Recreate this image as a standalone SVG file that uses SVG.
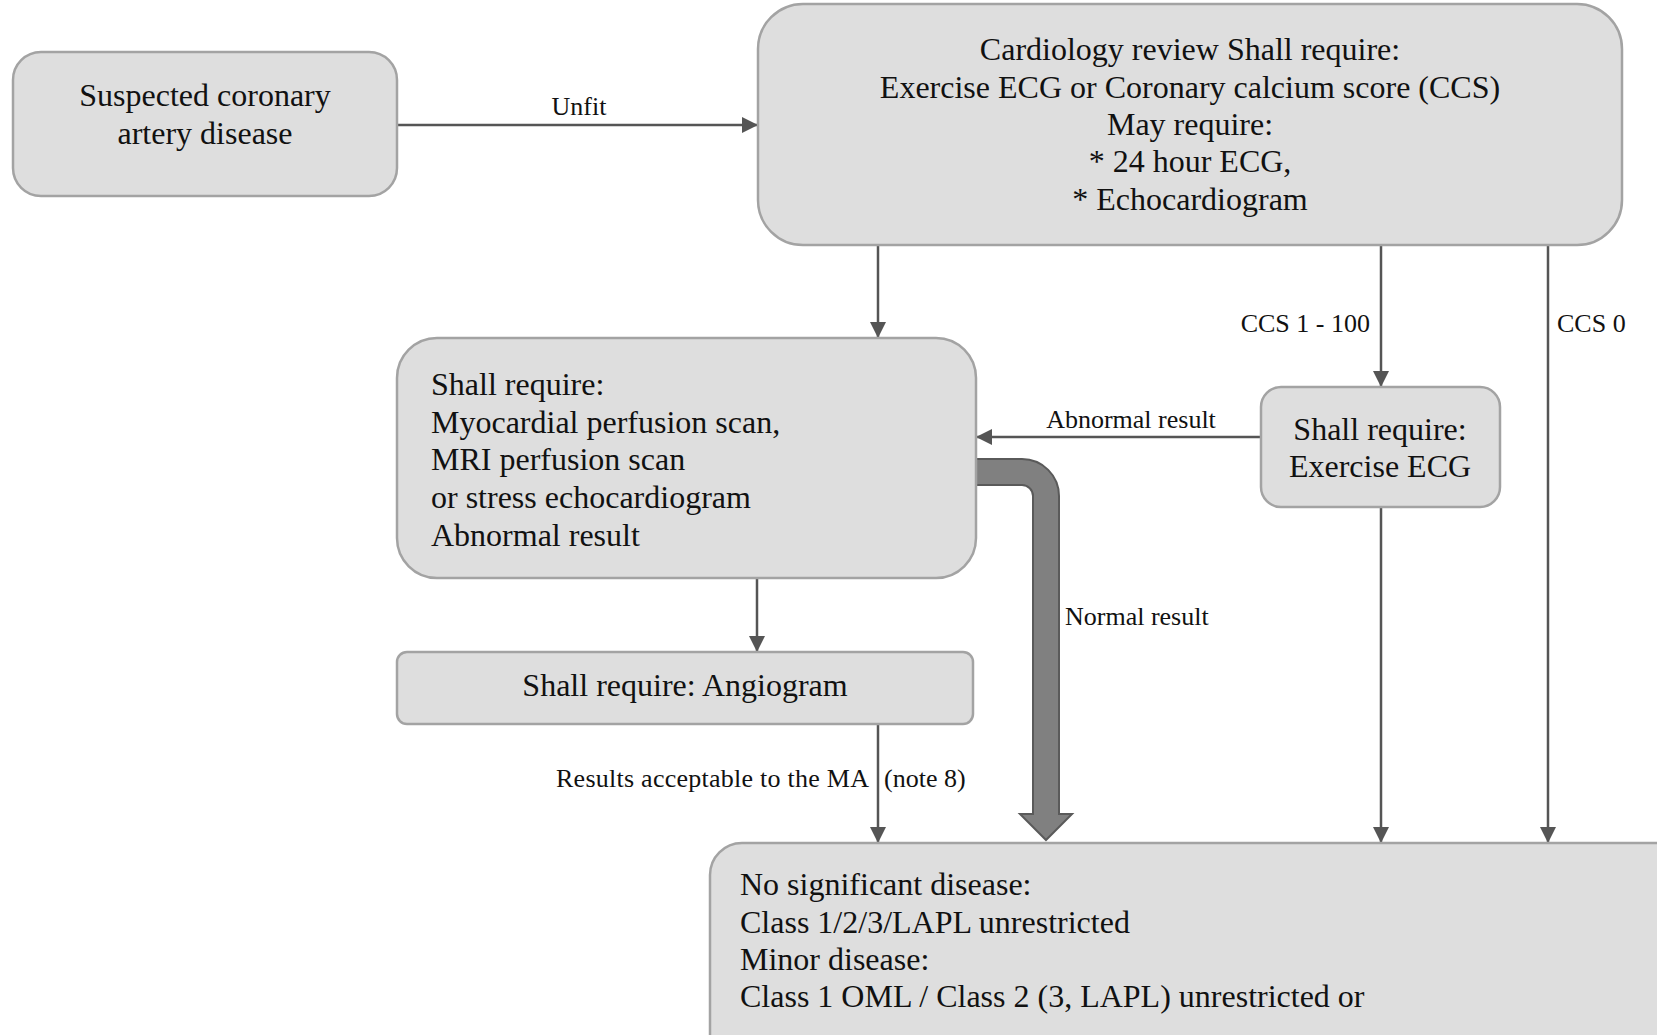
<svg xmlns="http://www.w3.org/2000/svg" width="1657" height="1035" viewBox="0 0 1657 1035">
  <style>
    .node rect { fill: #dedede; stroke: #a3a3a3; stroke-width: 2.5; }
    .node text { font-family: "Liberation Serif", "Times New Roman", serif; font-size: 32px; fill: #111; }
    .mid { text-anchor: middle; }
    .edge { fill: none; stroke: #555; stroke-width: 2.5; marker-end: url(#arrow); }
    .label { font-family: "Liberation Serif", "Times New Roman", serif; font-size: 26px; fill: #111; }
    .thick { fill: #808080; stroke: #5a5a5a; stroke-width: 2; stroke-linejoin: miter; }
  </style>
  <defs>
    <marker id="arrow" markerUnits="userSpaceOnUse" markerWidth="16" markerHeight="16" refX="16" refY="8" orient="auto">
      <path d="M0,0 L16,8 L0,16 Z" fill="#555"/>
    </marker>
  </defs>
  <rect width="1657" height="1035" fill="#fff"/>

  <!-- connectors -->
  <g id="connectors">
    <path class="edge" d="M397,125 H758"/>
    <path class="edge" d="M878,245 V338"/>
    <path class="edge" d="M1381,245 V387"/>
    <path class="edge" d="M1548,245 V843"/>
    <path class="edge" d="M1261,437 H976"/>
    <path class="edge" d="M757,578 V652"/>
    <path class="edge" d="M878,724 V843"/>
    <path class="edge" d="M1381,507 V843"/>
    <!-- wide "normal result" route -->
    <path class="thick" d="M976,459 H1022 A37,37 0 0 1 1059,496 V814 H1072 L1046,840 L1020,814 H1033 V496 A11,11 0 0 0 1022,485 H976 Z"/>
    <text class="label mid" x="579" y="115">Unfit</text>
    <text class="label mid" x="1131" y="428">Abnormal result</text>
    <text class="label" x="1370" y="332" text-anchor="end">CCS 1 - 100</text>
    <text class="label" x="1557" y="332">CCS 0</text>
    <text class="label" x="1065" y="625">Normal result</text>
    <text class="label" y="787"><tspan x="556" textLength="313" lengthAdjust="spacing">Results acceptable to the MA</tspan><tspan x="884">(note 8)</tspan></text>
  </g>

  <g id="suspected" class="node">
    <rect x="13" y="52" width="384" height="144" rx="28"/>
    <text class="mid" x="205" y="106">Suspected coronary</text>
    <text class="mid" x="205" y="144">artery disease</text>
  </g>

  <g id="cardiology" class="node">
    <rect x="758" y="4" width="864" height="241" rx="45"/>
    <text class="mid" x="1190" y="60">Cardiology review Shall require:</text>
    <text class="mid" x="1190" y="98">Exercise ECG or Coronary calcium score (CCS)</text>
    <text class="mid" x="1190" y="135">May require:</text>
    <text class="mid" x="1190" y="172">* 24 hour ECG,</text>
    <text class="mid" x="1190" y="210">* Echocardiogram</text>
  </g>

  <g id="perfusion" class="node">
    <rect x="397" y="338" width="579" height="240" rx="40"/>
    <text x="431" y="395">Shall require:</text>
    <text x="431" y="433">Myocardial perfusion scan,</text>
    <text x="431" y="470">MRI perfusion scan</text>
    <text x="431" y="508">or stress echocardiogram</text>
    <text x="431" y="546">Abnormal result</text>
  </g>

  <g id="exercise" class="node">
    <rect x="1261" y="387" width="239" height="120" rx="20"/>
    <text class="mid" x="1380" y="440">Shall require:</text>
    <text class="mid" x="1380" y="477">Exercise ECG</text>
  </g>

  <g id="angiogram" class="node">
    <rect x="397" y="652" width="576" height="72" rx="10"/>
    <text class="mid" x="685" y="696">Shall require: Angiogram</text>
  </g>

  <g id="outcome" class="node">
    <rect x="710" y="843" width="980" height="250" rx="32"/>
    <text x="740" y="895">No significant disease:</text>
    <text x="740" y="933">Class 1/2/3/LAPL unrestricted</text>
    <text x="740" y="970">Minor disease:</text>
    <text x="740" y="1007">Class 1 OML / Class 2 (3, LAPL) unrestricted or</text>
  </g>
</svg>
